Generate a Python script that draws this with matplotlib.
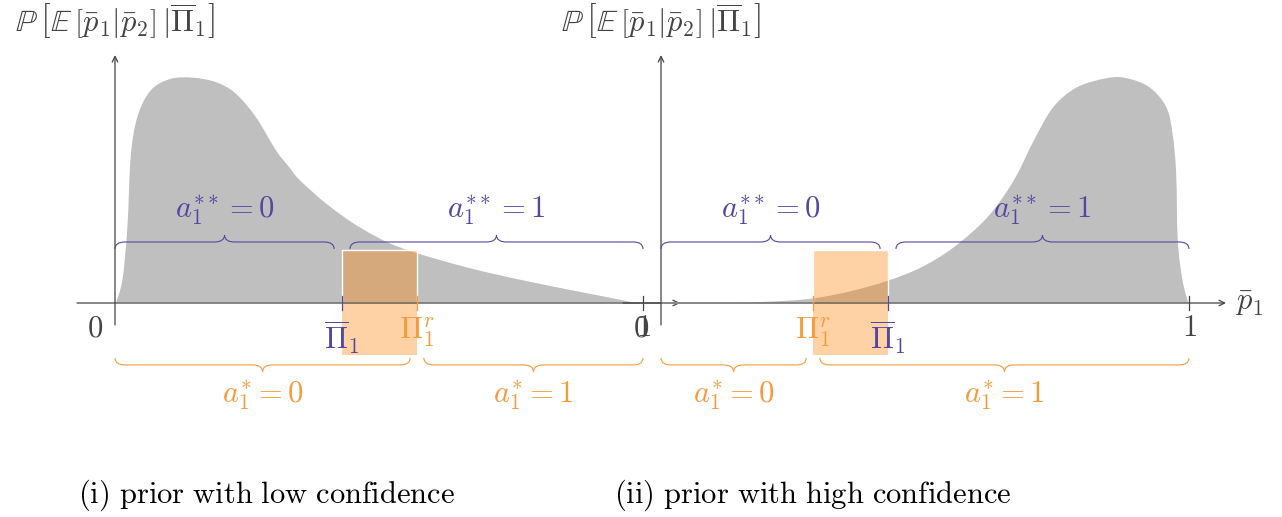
import numpy as np
import matplotlib
matplotlib.use('Agg')
import matplotlib.pyplot as plt
from matplotlib.path import Path
from matplotlib.patches import PathPatch, Rectangle

plt.rcParams['mathtext.fontset'] = 'cm'
plt.rcParams['font.family'] = 'serif'
plt.rcParams['font.serif'] = ['DejaVu Serif']

# prior densities (peak height normalised to 1)
low_x = [0.0, 0.0127, 0.0222, 0.0284, 0.0411, 0.0663, 0.104, 0.148, 0.193, 0.230,
         0.268, 0.306, 0.331, 0.350, 0.401, 0.464, 0.540, 0.666, 0.792, 0.919, 0.981, 0.994]
low_y = [0.0, 0.102, 0.338, 0.647, 0.824, 0.942, 0.994, 1.0, 0.979, 0.928,
         0.824, 0.677, 0.603, 0.548, 0.442, 0.338, 0.249, 0.161, 0.094, 0.035, 0.006, 0.0]
high_x = [0.0, 0.112, 0.238, 0.301, 0.364, 0.427, 0.491, 0.553, 0.617, 0.667, 0.705,
          0.742, 0.787, 0.844, 0.882, 0.926, 0.958, 0.970, 0.977, 0.980, 0.989, 1.0]
high_y = [0.0, 0.002, 0.013, 0.028, 0.058, 0.10, 0.159, 0.248, 0.381, 0.544, 0.721,
          0.869, 0.957, 0.998, 0.998, 0.957, 0.869, 0.752, 0.575, 0.279, 0.102, 0.0]

# thresholds: belief cutoff and reservation cutoff
pibar = [0.430, 0.430]
pir = [0.572, 0.288]

captions = ['(i) prior with low confidence', '(ii) prior with high confidence']

purple = '#5546a0'
orange = '#f79a3c'
axcol = '#444444'
grey = '#bfbfbf'
fs = 22

def smooth_area(xs, ys):
    # closed area under a catmull-rom curve through the points
    p = np.column_stack([xs, ys])
    n = len(p)
    verts = [tuple(p[0])]
    codes = [Path.MOVETO]
    for i in range(n - 1):
        a = p[max(i - 1, 0)]
        b = p[i]
        c = p[i + 1]
        d = p[min(i + 2, n - 1)]
        verts += [tuple(b + (c - a)/6.0), tuple(c - (d - b)/6.0), tuple(c)]
        codes += [Path.CURVE4]*3
    verts += [(xs[0], 0), (xs[0], 0)]
    codes += [Path.LINETO, Path.CLOSEPOLY]
    return Path(verts, codes)

def brace(ax, x0, x1, y, d, w, col, up=True):
    s = 1 if up else -1
    xm = 0.5*(x0 + x1)
    verts = [(x0, y - s*d), (x0, y), (x0 + w, y), (xm - w, y), (xm, y), (xm, y + s*d),
             (xm, y), (xm + w, y), (x1 - w, y), (x1, y), (x1, y - s*d)]
    codes = [Path.MOVETO, Path.CURVE3, Path.CURVE3, Path.LINETO, Path.CURVE3, Path.CURVE3,
             Path.CURVE3, Path.CURVE3, Path.LINETO, Path.CURVE3, Path.CURVE3]
    ax.add_patch(PathPatch(Path(verts, codes), fc='none', ec=col, lw=0.8, zorder=5))
    return xm

def panel(ax, xs, ys, pb, pr):
    ax.set_xlim(-0.1, 1.1)
    ax.set_ylim(-0.6, 1.25)
    ax.axis('off')
    ax.add_patch(PathPatch(smooth_area(xs, ys), fc=grey, ec='white', lw=1, zorder=1))
    # reservation / belief window
    lo, hi = min(pb, pr), max(pb, pr)
    ax.add_patch(Rectangle((lo, 0), hi - lo, 0.235, fc=(1, 0.5, 0, 0.35), ec='white', lw=1, zorder=2))
    ax.add_patch(Rectangle((lo, -0.23), hi - lo, 0.23, fc=(1, 0.5, 0, 0.35), ec='none', zorder=2))
    # axes
    ax.annotate('', xy=(1.07, 0), xytext=(-0.072, 0),
                arrowprops=dict(arrowstyle='->', color=axcol, lw=0.9, shrinkA=0, shrinkB=0), zorder=4)
    ax.annotate('', xy=(0, 1.097), xytext=(0, -0.097),
                arrowprops=dict(arrowstyle='->', color=axcol, lw=0.9, shrinkA=0, shrinkB=0), zorder=4)
    ax.plot([1, 1], [-0.031, 0.031], color=axcol, lw=0.9, zorder=4)
    ax.plot([pb, pb], [-0.031, 0.031], color=purple, lw=0.9, zorder=4)
    ax.plot([pr, pr], [-0.031, 0.031], color=orange, lw=0.9, zorder=4)
    ax.text(-0.038, -0.11, '$0$', color=axcol, fontsize=fs, ha='center', va='center')
    ax.text(1.0, -0.11, '$1$', color=axcol, fontsize=fs, ha='center', va='center')
    ax.text(pb, -0.15, r'$\overline{\Pi}_1$', color=purple, fontsize=fs, ha='center', va='center')
    ax.text(pr, -0.13, r'$\Pi_1^r$', color=orange, fontsize=fs, ha='center', va='center')
    ax.text(0, 1.245,
            r'$\mathbb{P}\,\left[\mathbb{E}\,\left[\bar{p}_1|\bar{p}_2\right]\,|\overline{\Pi}_1\right]$',
            color=axcol, fontsize=fs, ha='center', va='center')
    # optimal actions
    d, w = 0.031, 0.019
    m = brace(ax, 0, pb - 0.015, 0.27, d, w, purple)
    ax.text(m, 0.41, r'$a_1^{**} = 0$', color=purple, fontsize=fs, ha='center', va='center')
    m = brace(ax, pb + 0.015, 1, 0.27, d, w, purple)
    ax.text(m, 0.41, r'$a_1^{**} = 1$', color=purple, fontsize=fs, ha='center', va='center')
    m = brace(ax, 0, pr - 0.013, -0.274, d, w, orange, up=False)
    ax.text(m, -0.41, r'$a_1^{*} = 0$', color=orange, fontsize=fs, ha='center', va='center')
    m = brace(ax, pr + 0.013, 1, -0.274, d, w, orange, up=False)
    ax.text(m, -0.41, r'$a_1^{*} = 1$', color=orange, fontsize=fs, ha='center', va='center')

fig = plt.figure(figsize=(12.82, 5.17), dpi=100)
W, H = 1282.0, 517.0
ax1 = fig.add_axes([62.2/W, 78.4/H, 633.6/W, 418.1/H])
ax2 = fig.add_axes([608.2/W, 78.4/H, 633.6/W, 418.1/H])
ax1.patch.set_alpha(0)
ax2.patch.set_alpha(0)

panel(ax1, low_x, low_y, pibar[0], pir[0])
panel(ax2, high_x, high_y, pibar[1], pir[1])
ax2.text(1.115, 0.0, r'$\bar{p}_1$', color=axcol, fontsize=fs, ha='center', va='center')

fig.text(78/W, 1 - 495/H, r'$\mathrm{' + captions[0].replace(' ', r'\ ') + '}$',
         fontsize=fs, ha='left', va='center')
fig.text(614/W, 1 - 495/H, r'$\mathrm{' + captions[1].replace(' ', r'\ ') + '}$',
         fontsize=fs, ha='left', va='center')

fig.savefig('out.png', dpi=100)
